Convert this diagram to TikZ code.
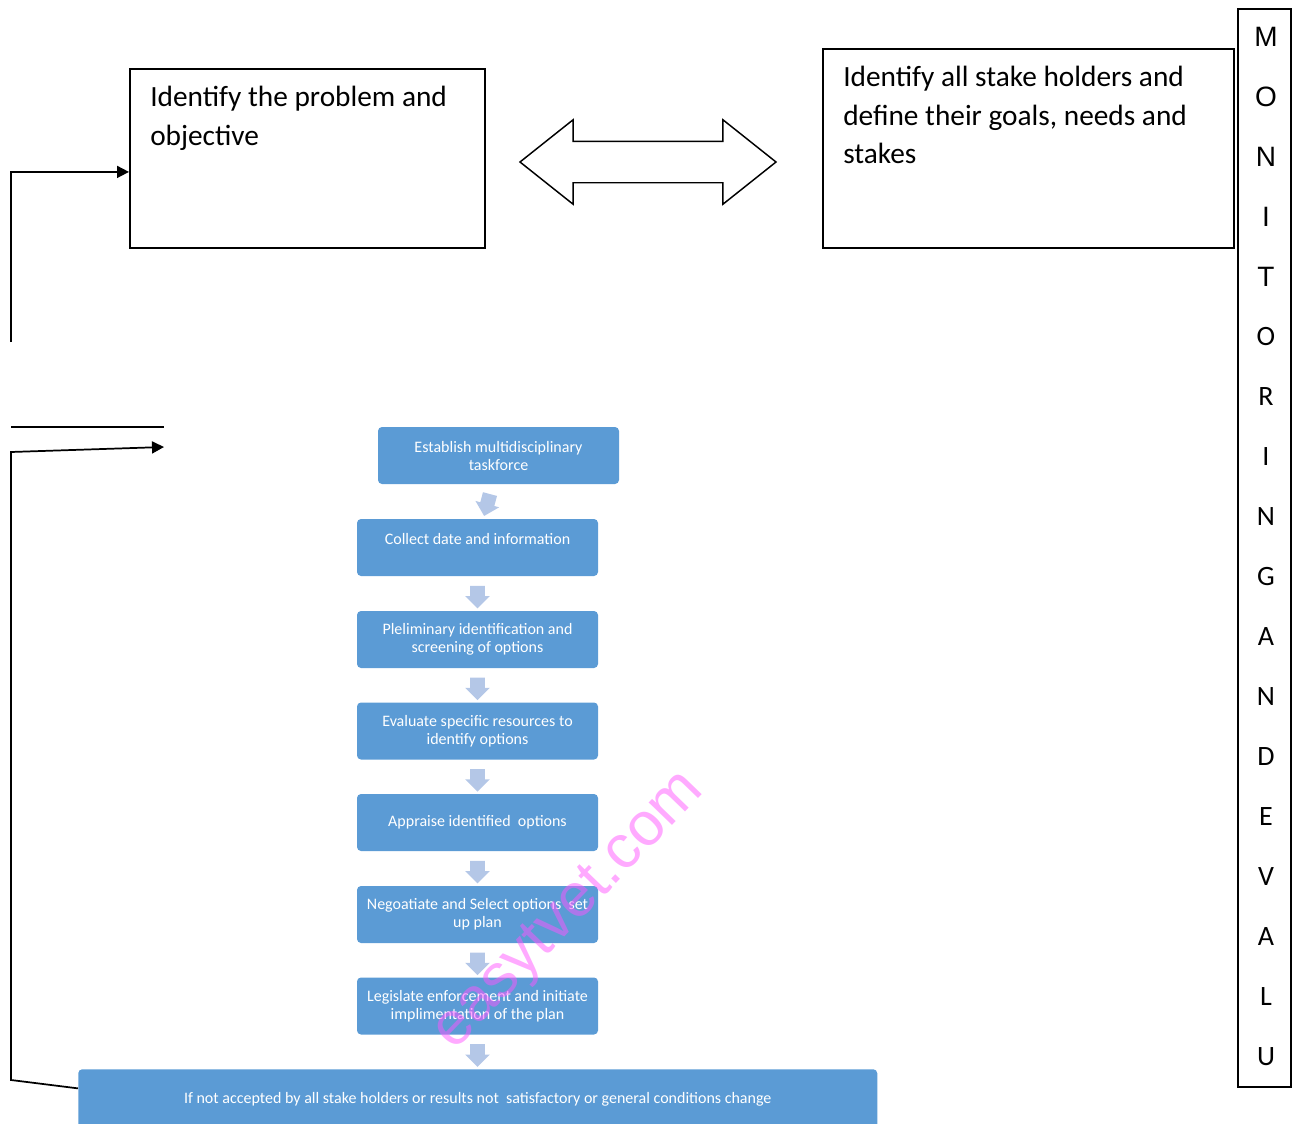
\documentclass[tikz,border=0pt]{standalone}
\usepackage{fontspec}
\setmainfont{Carlito}
\newfontfamily\arialfont{Liberation Sans}
\usetikzlibrary{
  arrows.meta, positioning, shapes.arrows, calc
}
\definecolor{taskblue}{HTML}{5B9BD5}
\definecolor{flowarrow}{HTML}{B4C7E7}
\definecolor{stamp}{HTML}{FF55FF}

\tikzset{
  outline/.style={draw=black, line width=1.3pt, inner sep=0pt},
  wire/.style={draw=black, line width=1.3pt},
  wiretip/.style={wire, -{Triangle[length=9pt,width=9pt]}},
  bigtext/.style={font=\fontsize{22pt}{29pt}\selectfont, align=left, anchor=north west, inner sep=0pt},
  taskbox/.style={fill=taskblue, text=white, rounded corners=3pt, minimum width=180.75pt,
    minimum height=42.75pt, align=center, inner sep=2pt, font=\fontsize{12pt}{13.5pt}\selectfont},
  downarrow/.style={single arrow, fill=flowarrow, minimum height=17pt, minimum width=18pt,
    single arrow head extend=3.75pt, inner sep=5.25pt, shape border rotate=270},
  letter/.style={font=\fontsize{21pt}{21pt}\selectfont, inner sep=0pt},
}

\begin{document}
\begin{tikzpicture}[x=0.75pt, y=-0.75pt]
  \useasboundingbox (0,0) rectangle (1296,1124);

  % top row
  \node[outline, anchor=north west, minimum width=266.25pt, minimum height=134.25pt] (problem) at (129,68) {};
  \node[bigtext] (problem-txt) at (150,86) {Identify the problem and\\objective};
  \node[outline, anchor=north west, minimum width=308.25pt, minimum height=149.25pt] (stake) at (822,48) {};
  \node[bigtext] (stake-txt) at (843,66) {Identify all stake holders and\\define their goals, needs and\\stakes};
  \node[double arrow, draw=black, line width=1.1pt, fill=white, minimum height=192pt, minimum width=62.25pt,
    double arrow head extend=16.1pt, double arrow tip angle=77, inner sep=15pt] (link) at (648,162) {};

  % monitoring column
  \node[outline, anchor=north west, minimum width=39.75pt, minimum height=808.5pt] (monitor) at (1237,8) {};
  \foreach \l [count=\i from 0] in {M,O,N,I,T,O,R,I,N,G,A,N,D,E,V,A,L,U}
    \node[letter] (mon-\i) at (1266,{37+60*\i}) {\ifnum\i<5 \arialfont\fi\l};

  % flow of tasks
  \node[taskbox] (s1) at (498.5,455.5) {Establish multidisciplinary\\taskforce};
  \node[taskbox] (s2) at (477.5,547.5) {Collect date and information\\\mbox{}};
  \node[taskbox] (s3) at (477.5,639.5) {Pleliminary identification and\\screening of options};
  \node[taskbox] (s4) at (477.5,731) {Evaluate specific resources to\\identify options};
  \node[taskbox] (s5) at (477.5,822.5) {Appraise identified\ \ options};
  \node[taskbox] (s6) at (477.5,914.5) {Negoatiate and Select options\ \ set\\up plan};
  \node[taskbox] (s7) at (477.5,1006) {Legislate enforcement and initiate\\implimentation of the plan};
  \node[taskbox, anchor=north west, minimum width=599.25pt, minimum height=45pt] (bar) at (78,1069)
    {If not accepted by all stake holders or results not\ \ satisfactory or general conditions change};

  \node[downarrow, rotate=-15] (ar-s1) at ($(s1.south)!0.5!(s2.north)$) {};
  \foreach \a/\b in {s2/s3,s3/s4,s4/s5,s5/s6,s6/s7,s7/bar}
    \node[downarrow] (ar-\a) at ($(\a.south)!0.5!(\b.north -| \a.south)$) {};

  % feedback lines
  \coordinate (fb-top) at (11,342);
  \draw[wiretip] (fb-top) |- ($(problem.north west)!0.575!(problem.south west)$);
  \coordinate (cut-l) at (11,427);
  \coordinate (cut-r) at (164,427);
  \draw[wire] (cut-l) -- (cut-r);
  \coordinate (ret-low) at (11,1080);
  \coordinate (ret-bend) at (11,452);
  \coordinate (ret-tip) at (164,447);
  \draw[wiretip] ($(bar.north west)!0.32!(bar.south west)$) -- (ret-low) -- (ret-bend) -- (ret-tip);

  % watermark
  \node[text=stamp, text opacity=0.5, rotate=46, inner sep=0pt,
    font=\arialfont\fontsize{46pt}{46pt}\selectfont] (mark) at (570,912) {easytvet.com};
\end{tikzpicture}
\end{document}
